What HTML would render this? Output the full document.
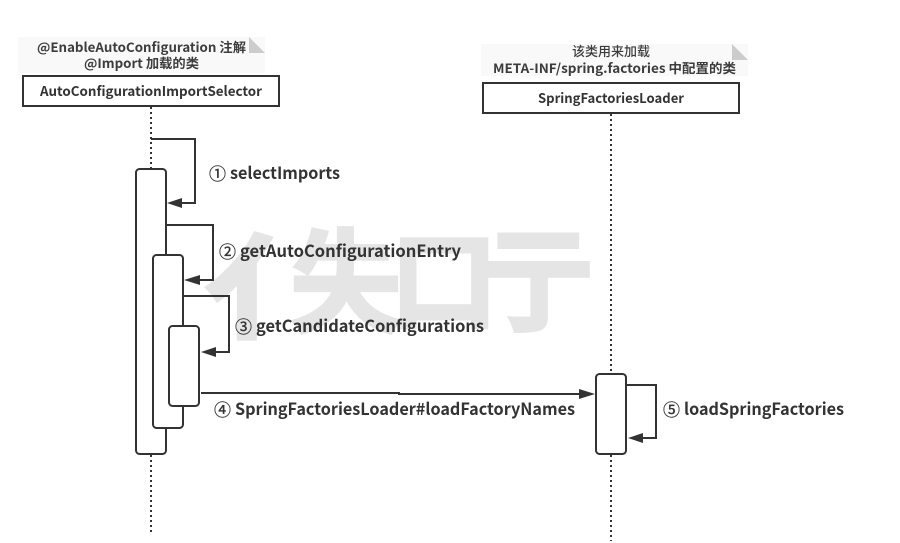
<!DOCTYPE html>
<html><head><meta charset="utf-8"><style>
html,body{margin:0;padding:0;background:#fff;width:900px;height:543px;overflow:hidden}
svg{display:block}
text{font-family:"Noto Sans CJK SC","Liberation Sans",sans-serif;fill:#333}
.b{font-weight:700}
.wm{fill:#e5e5e5;stroke:#e5e5e5;stroke-width:3;font-weight:700;font-size:112px}
.n{font-size:13px;text-anchor:middle;font-weight:700;fill:#3c3c3c}
.t{font-size:16.5px;font-weight:700}
.c{font-size:17px;font-weight:400;stroke:#333;stroke-width:.35}
</style></head><body>
<svg width="900" height="543" viewBox="0 0 900 543" xmlns="http://www.w3.org/2000/svg">
<rect width="900" height="543" fill="#fff"/>
<text class="wm" x="205" y="329" textLength="129" lengthAdjust="spacingAndGlyphs" style="stroke-width:4">亻</text>
<text class="wm" x="290" y="323">失</text>
<text class="wm" x="390" y="320" style="font-size:108px">口</text>
<text class="wm" x="482" y="321">亍</text>

<rect x="18" y="37" width="247" height="36" fill="#f9f9f9"/>
<polygon points="249,37 265,53 249,53" fill="#ccc"/>
<text class="n" x="141.500" y="52" textLength="209" lengthAdjust="spacingAndGlyphs">@EnableAutoConfiguration 注解</text>
<text class="n" x="141.500" y="68" textLength="115" lengthAdjust="spacingAndGlyphs">@Import 加载的类</text>
<rect x="23" y="76" width="256" height="30" fill="#fff" stroke="#333" stroke-width="2"/>
<text class="b" x="151" y="96" font-size="13.5" text-anchor="middle" textLength="222" lengthAdjust="spacingAndGlyphs">AutoConfigurationImportSelector</text>

<rect x="481" y="44" width="267" height="32" fill="#f9f9f9"/>
<polygon points="732,44 748,60 732,60" fill="#ccc"/>
<text class="n" x="611" y="56" textLength="78" lengthAdjust="spacingAndGlyphs" style="font-weight:500">该类用来加载</text>
<text class="n" x="614.500" y="73" textLength="243" lengthAdjust="spacingAndGlyphs">META-INF/spring.factories 中配置的类</text>
<rect x="483" y="83" width="256" height="30" fill="#fff" stroke="#333" stroke-width="2"/>
<text class="b" x="611" y="103" font-size="13.5" text-anchor="middle" textLength="146" lengthAdjust="spacingAndGlyphs">SpringFactoriesLoader</text>

<g stroke="#333" stroke-width="2" stroke-dasharray="2 3" fill="none">
<line x1="151" y1="107" x2="151" y2="169"/>
<line x1="151" y1="455" x2="151" y2="534"/>
<line x1="611" y1="114" x2="611" y2="374"/>
<line x1="611" y1="455" x2="611" y2="541"/>
</g>

<g fill="#fff" stroke="#333" stroke-width="2">
<rect x="136" y="169" width="30" height="285" rx="3.5"/>
<rect x="153" y="255" width="30" height="173" rx="3.5"/>
<rect x="169" y="326" width="30" height="80" rx="3.5"/>
<rect x="596" y="374" width="30" height="80" rx="3.5"/>
</g>

<g fill="none" stroke="#333" stroke-width="2">
<polyline points="151,139 195,139 195,203 180,203"/>
<polyline points="167,225 213,225 213,280 198,280"/>
<polyline points="184,296 229,296 229,352 215,352"/>
<polyline points="201,393 399,393 399,394 582,394"/>
<polyline points="627,385 656,385 656,438 642,438"/>
</g>
<g fill="#333">
<polygon points="167,203 182,198 182,208"/>
<polygon points="184,280 200,275 200,285"/>
<polygon points="201,352 216,347 216,357"/>
<polygon points="595,394 579,389 579,399"/>
<polygon points="628,438 643,433 643,443"/>
</g>

<text class="c" x="209" y="180">①</text>
<text class="t" x="230" y="179" textLength="110" lengthAdjust="spacingAndGlyphs">selectImports</text>
<text class="c" x="219" y="258">②</text>
<text class="t" x="240" y="257" textLength="221" lengthAdjust="spacingAndGlyphs">getAutoConfigurationEntry</text>
<text class="c" x="235" y="333">③</text>
<text class="t" x="256" y="332" textLength="228" lengthAdjust="spacingAndGlyphs">getCandidateConfigurations</text>
<text class="c" x="214" y="416">④</text>
<text class="t" x="235" y="415" textLength="340" lengthAdjust="spacingAndGlyphs">SpringFactoriesLoader#loadFactoryNames</text>
<text class="c" x="663" y="416">⑤</text>
<text class="t" x="684" y="415" textLength="160" lengthAdjust="spacingAndGlyphs">loadSpringFactories</text>
</svg>
</body></html>
